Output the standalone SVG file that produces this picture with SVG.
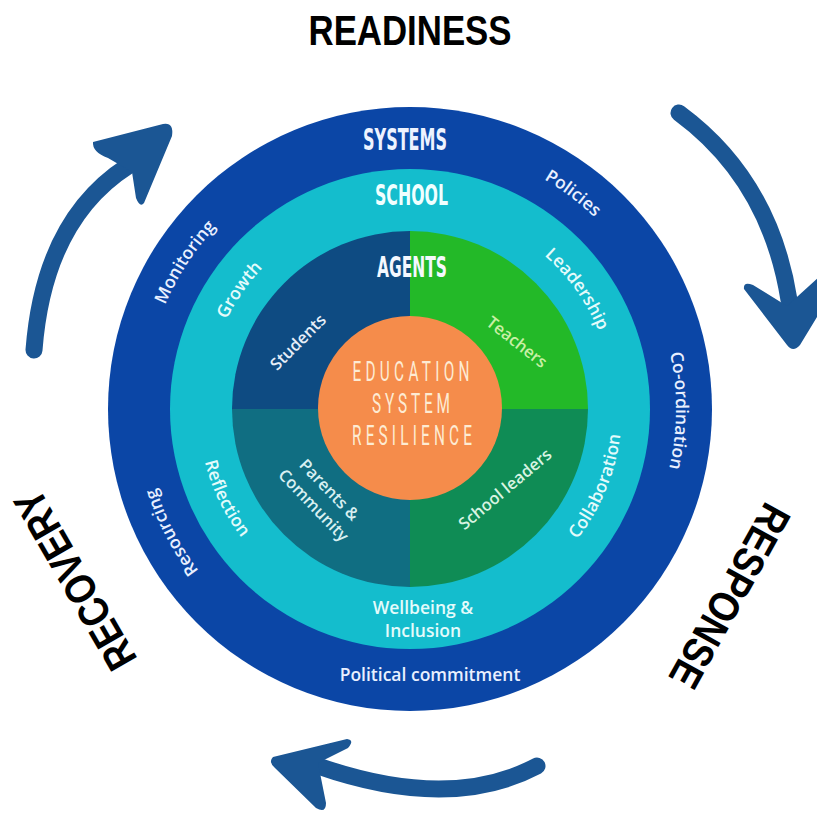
<svg xmlns="http://www.w3.org/2000/svg" width="817" height="814" viewBox="0 0 817 814">
<style>
.lbl{font-family:"Open Sans","Liberation Sans",sans-serif;font-weight:600;font-size:17.5px;text-anchor:middle}
.o{fill:#e9f0ff}
.c{fill:#e4fbfb}
.hd{font-family:"DejaVu Sans","Liberation Sans",sans-serif;font-weight:bold;text-anchor:middle}
.core{font-family:Roboto,"Liberation Sans",sans-serif;font-size:28px;fill:#fdebd3;text-anchor:middle}
.phase{font-family:"Liberation Sans",Arial,sans-serif;font-weight:bold;font-size:43px;fill:#000;text-anchor:middle}
.arrow{fill:none;stroke:#1b5694;stroke-width:17;stroke-linecap:round}
.head{fill:#1b5694}
.in{font-size:16.5px}
</style>
<defs>
<path id="oc" d="M410,143 A266,266 0 1 1 410,675 A266,266 0 1 1 410,143"/>
<path id="cc" d="M410,205 A204,204 0 1 1 410,613 A204,204 0 1 1 410,205"/>
<path id="ccw" d="M410,197 A212,212 0 1 0 410,621 A212,212 0 1 0 410,197"/>
</defs>
<rect width="817" height="814" fill="#ffffff"/>

<g id="connectors">
<path class="arrow" d="M34,350 Q44,220 128,166"/>
<path class="head" d="M93,142 L163,124 Q174,122 172,136 L144,203 Q140,208 136,198 L132,172 L108,158 Q92,152 93,142 Z"/>
<path class="arrow" d="M679,113 Q770,180 789,300"/>
<path class="head" d="M744,289 Q743,281 753,285 L787,306 L820,276 L820,312 L800,345 Q793,353 787,345 Z"/>
<path class="arrow" d="M537,766 Q450,812 318,766"/>
<path class="head" d="M273,757 L347,739 Q355,740 348,748 L318,763 L326,803 Q326,814 316,808 L275,768 Q268,762 273,757 Z"/>
</g>

<g id="systems">
<circle cx="410" cy="409" r="302" fill="#0b46a6"/>
<text class="hd" x="405" y="150" font-size="30" fill="#eef3ff" textLength="84" lengthAdjust="spacingAndGlyphs">SYSTEMS</text>
<text class="lbl o"><textPath href="#oc" startOffset="10.3%">Policies</textPath></text>
<text class="lbl o"><textPath href="#oc" startOffset="25.1%">Co-ordination</textPath></text>
<text class="lbl o"><textPath href="#oc" startOffset="67.4%">Resourcing</textPath></text>
<text class="lbl o"><textPath href="#oc" startOffset="84.2%">Monitoring</textPath></text>
<text class="lbl o" x="430" y="681">Political commitment</text>
</g>

<g id="school">
<circle cx="410" cy="409" r="240" fill="#14bdcd"/>
<text class="hd" x="411.5" y="205" font-size="27.5" fill="#f0ffff" textLength="73" lengthAdjust="spacingAndGlyphs">SCHOOL</text>
<text class="lbl c"><textPath href="#cc" startOffset="15.1%">Leadership</textPath></text>
<text class="lbl c"><textPath href="#cc" startOffset="84.7%">Growth</textPath></text>
<text class="lbl c"><textPath href="#ccw" startOffset="68.75%">Collaboration</textPath></text>
<text class="lbl c"><textPath href="#ccw" startOffset="32.2%">Reflection</textPath></text>
<text class="lbl c" x="423" y="614">Wellbeing &amp;</text>
<text class="lbl c" x="423" y="637">Inclusion</text>
</g>

<g id="agents">
<path id="q-students" d="M410,409 L232,409 A178,178 0 0 1 410,231 Z" fill="#0e4b82"/>
<path id="q-teachers" d="M410,409 L410,231 A178,178 0 0 1 588,409 Z" fill="#23b928"/>
<path id="q-leaders" d="M410,409 L588,409 A178,178 0 0 1 410,587 Z" fill="#0f8c55"/>
<path id="q-parents" d="M410,409 L410,587 A178,178 0 0 1 232,409 Z" fill="#106e82"/>
<text class="hd" x="412" y="277" font-size="28" fill="#f4f8ff" textLength="70" lengthAdjust="spacingAndGlyphs">AGENTS</text>
<text class="lbl in" fill="#e6eef8" transform="translate(298,342) rotate(-45)" dy="0.35em">Students</text>
<text class="lbl in" fill="#c9f0a6" transform="translate(517,342) rotate(38)" dy="0.35em">Teachers</text>
<text class="lbl in" fill="#d8f4e2" transform="translate(505,489) rotate(-40)" dy="0.35em">School leaders</text>
<g transform="translate(321.5,497.5) rotate(46)">
<text class="lbl in" fill="#d8f0f2" y="-11" dy="0.35em">Parents &amp;</text>
<text class="lbl in" fill="#d8f0f2" y="11" dy="0.35em">Community</text>
</g>
</g>

<g id="core">
<circle cx="410" cy="408" r="92" fill="#f58c4b"/>
<text class="core" transform="translate(411,381) scale(0.55,1)" textLength="213" lengthAdjust="spacing">EDUCATION</text>
<text class="core" transform="translate(411,413) scale(0.55,1)" textLength="142" lengthAdjust="spacing">SYSTEM</text>
<text class="core" transform="translate(412,445) scale(0.55,1)" textLength="218" lengthAdjust="spacing">RESILIENCE</text>
</g>

<g id="phases">
<text class="phase" x="410" y="45" textLength="203" lengthAdjust="spacingAndGlyphs">READINESS</text>
<text class="phase" transform="translate(730,596) rotate(119)" y="15" textLength="203" lengthAdjust="spacingAndGlyphs">RESPONSE</text>
<text class="phase" transform="translate(75,580) rotate(-120)" y="15" textLength="200" lengthAdjust="spacingAndGlyphs">RECOVERY</text>
</g>
</svg>
